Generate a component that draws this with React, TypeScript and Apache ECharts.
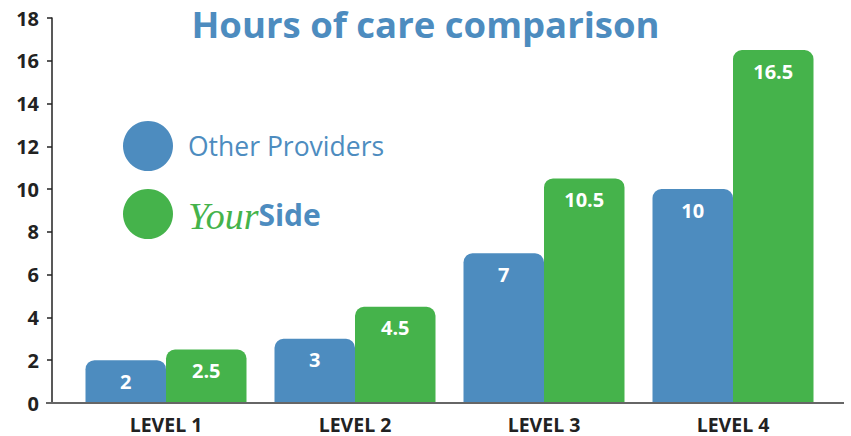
import React, { useEffect, useRef } from "react";
import * as echarts from "echarts";

const categories = ["LEVEL 1", "LEVEL 2", "LEVEL 3", "LEVEL 4"];
const otherProviders = [2, 3, 7, 10];
const yourSide = [2.5, 4.5, 10.5, 16.5];
const seriesNames = ["Other Providers", "YourSide"];
const titleText = "Hours of care comparison";

const BLUE = "#4d8cbf";
const GREEN = "#45b34b";
const FONT = "'Open Sans', 'Noto Sans', sans-serif";

export default function App() {
  const ref = useRef<HTMLDivElement>(null);
  useEffect(() => {
    document.body.style.margin = "0";
    const chart = echarts.init(ref.current!, null, { renderer: "svg" });
    const labelStyle = {
      show: true,
      position: "insideTop",
      distance: 11,
      color: "#ffffff",
      fontSize: 20,
      fontWeight: "bold",
      fontFamily: FONT,
    };
    chart.setOption({
      animation: false,
      title: {
        text: titleText,
        left: "center",
        top: 4,
        padding: 0,
        textStyle: { fontSize: 36.5, fontWeight: "bold", color: BLUE, fontFamily: FONT, lineHeight: 40 },
      },
      legend: {
        orient: "vertical",
        left: 118,
        top: 116,
        itemWidth: 50,
        itemHeight: 50,
        itemGap: 18,
        icon: "circle",
        data: seriesNames,
        formatter: (name: string) => (name === "YourSide" ? "{a|Your}{b|Side}" : name),
        textStyle: {
          fontSize: 26.5,
          color: BLUE,
          fontFamily: FONT,
          padding: [0, 0, 0, 10],
          rich: {
            a: {
              fontSize: 38,
              fontStyle: "italic",
              color: GREEN,
              fontFamily: "'Liberation Serif', serif",
              padding: [4, 0, 0, 0],
            },
            b: { fontSize: 30, fontWeight: "bold", color: BLUE, fontFamily: FONT },
          },
        },
      },
      grid: { left: 71.5, right: 23.5, top: 18, bottom: 33, containLabel: false },
      xAxis: {
        type: "category",
        data: categories,
        axisLine: { show: false },
        axisTick: { show: false },
        axisLabel: {
          color: "#222",
          fontSize: 19.5,
          fontWeight: "bold",
          fontFamily: FONT,
          margin: 11,
        },
      },
      yAxis: {
        type: "value",
        min: 0,
        max: 18,
        interval: 2,
        offset: 19.5,
        splitLine: { show: false },
        axisLine: { show: true, lineStyle: { color: "#222", width: 1.5 } },
        axisTick: { show: true, length: 5, lineStyle: { color: "#222", width: 1.5 } },
        axisLabel: {
          color: "#222",
          fontSize: 20,
          fontWeight: "bold",
          fontFamily: FONT,
          margin: 13,
        },
      },
      graphic: [
        {
          type: "line",
          z: 100,
          shape: { x1: 46, y1: 403, x2: 844, y2: 403 },
          style: { stroke: "#666", lineWidth: 2 },
        },
      ],
      series: [
        {
          name: seriesNames[0],
          type: "bar",
          data: otherProviders,
          barWidth: 80.5,
          barGap: "0%",
          itemStyle: { color: BLUE, borderRadius: [9, 9, 0, 0] },
          label: labelStyle,
        },
        {
          name: seriesNames[1],
          type: "bar",
          data: yourSide,
          barWidth: 80.5,
          barGap: "0%",
          itemStyle: { color: GREEN, borderRadius: [9, 9, 0, 0] },
          label: labelStyle,
        },
      ],
    });
    return () => chart.dispose();
  }, []);
  return <div ref={ref} style={{ width: 851, height: 436 }} />;
}
